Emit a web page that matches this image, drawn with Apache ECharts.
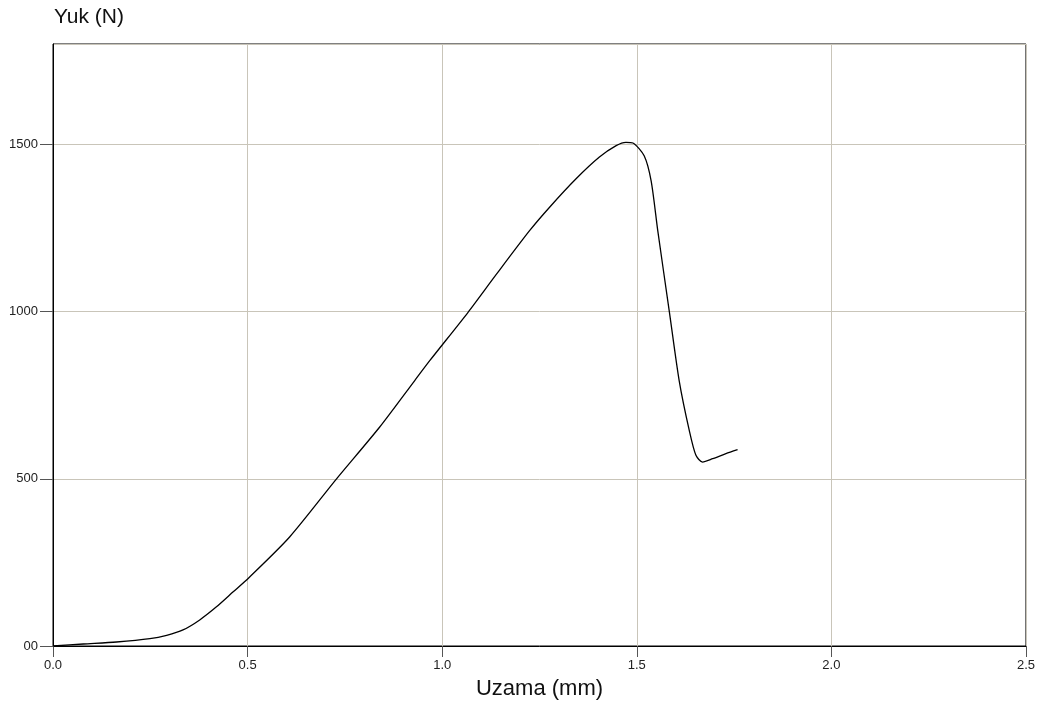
<!DOCTYPE html>
<html>
<head>
<meta charset="utf-8">
<script src="https://cdn.jsdelivr.net/npm/echarts@6/dist/echarts.min.js"></script>
<style>
html,body{margin:0;padding:0;background:#fff;}
#chart{width:1038px;height:713px;}
</style>
</head>
<body>
<div id="chart"></div>
<script>
// Elongation (mm)
var elongation = [0, 0.078, 0.163, 0.249, 0.292, 0.334, 0.377, 0.420, 0.463, 0.504,
  0.608, 0.728, 0.839, 0.929, 0.968, 1.066, 1.139, 1.224, 1.276, 1.344, 1.404,
  1.447, 1.472, 1.490, 1.519, 1.537, 1.554, 1.584, 1.609, 1.635, 1.652, 1.669,
  1.695, 1.729, 1.759];
// Load (N)
var load = [0, 6, 12, 22, 32, 48, 78, 117, 162, 205,
  326, 499, 654, 793, 853, 997, 1111, 1241, 1312, 1397, 1462,
  1496, 1506, 1504, 1466, 1390, 1241, 997, 793, 644, 570, 550,
  560, 575, 587];
var xTickLabels = ['0.0', '0.5', '1.0', '1.5', '2.0', '2.5'];
var yTicks = [0, 500, 1000, 1500];
var yTickLabels = ['00', '500', '1000', '1500'];

var points = elongation.map(function (x, i) { return [x, load[i]]; });

var font = 'Liberation Sans, Arial, sans-serif';
var chart = echarts.init(document.getElementById('chart'), null, {renderer: 'canvas'});
chart.setOption({
  animation: false,
  backgroundColor: '#fff',
  textStyle: {fontFamily: font},
  title: {
    text: 'Yuk (N)', left: 49, top: 2,
    textStyle: {fontSize: 21, fontWeight: 'normal', color: '#111', fontFamily: font}
  },
  grid: {left: 53, right: 11, top: 44, bottom: 67, show: true, borderColor: '#000', borderWidth: 1, backgroundColor: 'transparent'},
  xAxis: {
    type: 'value', min: 0, max: 2.5, interval: 0.5,
    name: 'Uzama (mm)', nameLocation: 'middle', nameGap: 32,
    nameTextStyle: {fontSize: 22, color: '#111', fontFamily: font},
    axisLine: {show: true, lineStyle: {color: '#000', width: 1}},
    axisTick: {show: true, length: 11, lineStyle: {color: '#555'}},
    axisLabel: {margin: 13, fontSize: 13, color: '#222', formatter: function (v) {
      var i = Math.round(v / 0.5); return xTickLabels[i] || ''; }},
    splitLine: {show: true, lineStyle: {color: '#c9c5b9', width: 1}}
  },
  yAxis: {
    type: 'value', min: 0, max: 1800, interval: 500,
    axisLine: {show: true, lineStyle: {color: '#000', width: 1}},
    axisTick: {show: true, length: 13, lineStyle: {color: '#555'}},
    axisLabel: {margin: 15, fontSize: 13, color: '#222', showMaxLabel: false, formatter: function (v) {
      var i = yTicks.indexOf(v); return i >= 0 ? yTickLabels[i] : ''; }},
    splitLine: {show: true, lineStyle: {color: '#c9c5b9', width: 1}}
  },
  series: [{
    type: 'line', data: points, smooth: 0.25, symbol: 'none',
    lineStyle: {color: '#000', width: 1.3}
  }]
});
</script>
</body>
</html>
